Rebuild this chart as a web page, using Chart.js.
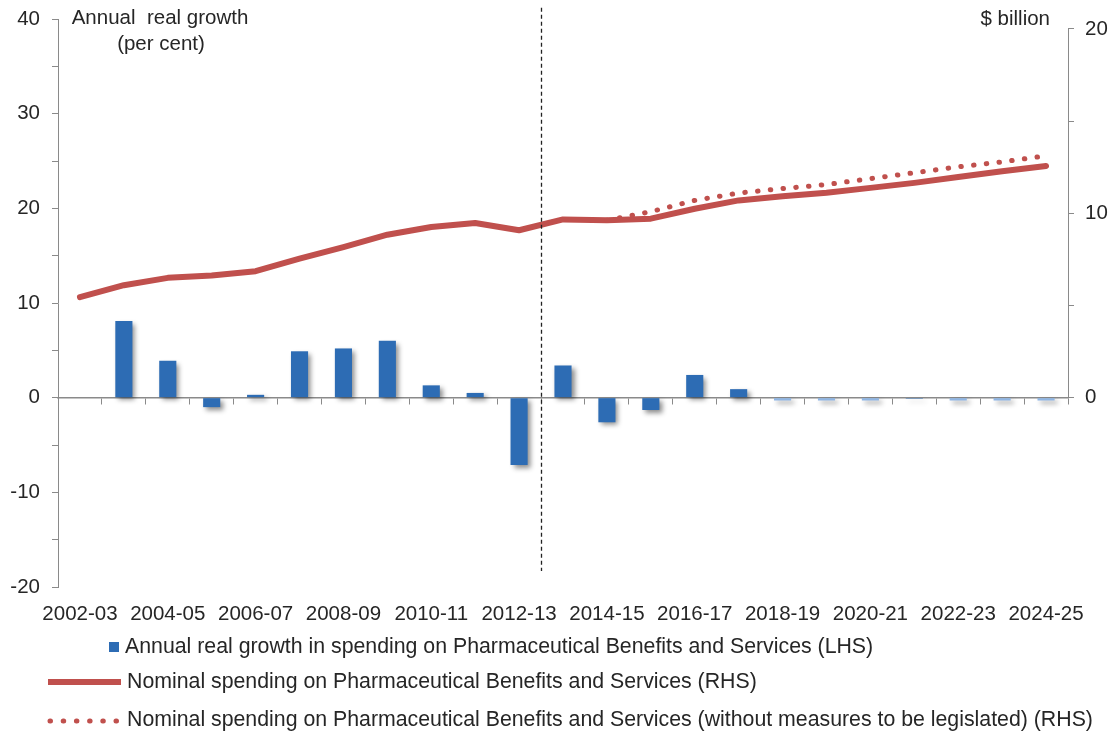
<!DOCTYPE html>
<html>
<head>
<meta charset="utf-8">
<script src="https://cdn.jsdelivr.net/npm/chart.js@4.4.0/dist/chart.umd.min.js"></script>
<style>
  html, body { margin: 0; padding: 0; background: #fff; }
  #wrap { position: relative; width: 1115px; height: 733px; }
</style>
</head>
<body>
<div id="wrap"><canvas id="pbsChart"></canvas></div>
<script>
// financial years on the category axis
const years = [
  "2002-03", "2003-04", "2004-05", "2005-06", "2006-07", "2007-08", "2008-09",
  "2009-10", "2010-11", "2011-12", "2012-13", "2013-14", "2014-15", "2015-16",
  "2016-17", "2017-18", "2018-19", "2019-20", "2020-21", "2021-22", "2022-23",
  "2023-24", "2024-25"
];

// annual real growth, per cent (LHS)
const realGrowth = [
  null, 8.1, 3.9, -1.0, 0.3, 4.9, 5.2, 6.0, 1.3, 0.5, -7.1, 3.4, -2.6, -1.3,
  2.4, 0.9, -0.3, -0.3, -0.3, -0.1, -0.3, -0.3, -0.3
];

// nominal spending, $ billion (RHS)
const nominalSpend = [
  5.45, 6.1, 6.5, 6.63, 6.86, 7.54, 8.17, 8.84, 9.26, 9.47, 9.08, 9.67, 9.62,
  9.71, 10.25, 10.7, 10.92, 11.12, 11.38, 11.65, 11.97, 12.28, 12.57
];

// nominal spending without measures to be legislated, $ billion (RHS)
const nominalNoMeasures = [
  null, null, null, null, null, null, null, null, null, null, null, null, 9.62,
  10.09, 10.7, 11.1, 11.34, 11.56, 11.88, 12.2, 12.52, 12.79, 13.12
];

const leftTickLabels = [-20, -10, 0, 10, 20, 30, 40];
const rightTickLabels = [0, 10, 20];

const seriesNames = [
  "Annual real growth in spending on Pharmaceutical Benefits and Services (LHS)",
  "Nominal spending on Pharmaceutical Benefits and Services (RHS)",
  "Nominal spending on Pharmaceutical Benefits and Services (without measures to be legislated) (RHS)"
];

const FONT = '"Liberation Sans", Arial, sans-serif';
const TEXT = "#262626";
const AXIS = "#8a8a8a";
const BLUE = "#2d6cb4";
const LIGHT_BLUE = "#8fb5e3";
const RED = "#c0504d";
const lightBars = [16, 17, 18, 20, 21, 22];
const dividerAfter = 10; // between 2012-13 and 2013-14

Chart.defaults.font.family = FONT;
Chart.defaults.font.size = 20.5;
Chart.defaults.color = TEXT;

const barShadow = {
  id: "barShadow",
  beforeDatasetDraw(chart, args) {
    if (args.index !== 0) return;
    const ctx = chart.ctx;
    ctx.save();
    ctx.shadowColor = "rgba(0,0,0,0.45)";
    ctx.shadowBlur = 5;
    ctx.shadowOffsetX = 3;
    ctx.shadowOffsetY = 3;
  },
  afterDatasetDraw(chart, args) {
    if (args.index !== 0) return;
    chart.ctx.restore();
  }
};

const decor = {
  id: "decor",
  afterDatasetsDraw(chart) {
    const { ctx, scales } = chart;
    const x = scales.x, y = scales.y;
    const xd = (x.getPixelForValue(dividerAfter) + x.getPixelForValue(dividerAfter + 1)) / 2;
    ctx.save();
    ctx.strokeStyle = "#222";
    ctx.lineWidth = 1.3;
    ctx.setLineDash([4, 3]);
    ctx.beginPath();
    ctx.moveTo(Math.round(xd) + 0.5, y.getPixelForValue(41.2));
    ctx.lineTo(Math.round(xd) + 0.5, y.getPixelForValue(-18.3));
    ctx.stroke();
    ctx.restore();
  },
  afterDraw(chart) {
    const { ctx, scales, chartArea } = chart;
    const y1 = scales.y1;
    ctx.save();

    // right axis line only spans 0 to 20
    ctx.strokeStyle = AXIS;
    ctx.lineWidth = 1;
    ctx.beginPath();
    ctx.moveTo(chartArea.right + 0.5, y1.getPixelForValue(20));
    ctx.lineTo(chartArea.right + 0.5, y1.getPixelForValue(0));
    ctx.stroke();

    // axis titles
    ctx.fillStyle = TEXT;
    ctx.font = "20.5px " + FONT;
    ctx.textBaseline = "middle";
    ctx.textAlign = "center";
    ctx.fillText("Annual  real growth", 160, 18);
    ctx.fillText("(per cent)", 161, 44);
    ctx.textAlign = "right";
    ctx.fillText("$ billion", 1050, 19);

    // legend
    ctx.font = "21.3px " + FONT;
    ctx.textAlign = "left";
    ctx.fillStyle = BLUE;
    ctx.fillRect(109, 642, 10, 10);
    ctx.fillStyle = TEXT;
    ctx.fillText(seriesNames[0], 125, 647);

    ctx.strokeStyle = RED;
    ctx.lineWidth = 6;
    ctx.beginPath();
    ctx.moveTo(48, 682);
    ctx.lineTo(121, 682);
    ctx.stroke();
    ctx.fillText(seriesNames[1], 127, 682);

    ctx.lineWidth = 5;
    ctx.lineCap = "round";
    ctx.setLineDash([0.5, 12.7]);
    ctx.beginPath();
    ctx.moveTo(50, 721);
    ctx.lineTo(117, 721);
    ctx.stroke();
    ctx.setLineDash([]);
    ctx.fillText(seriesNames[2], 127, 720);

    ctx.restore();
  }
};

const noTickPad = s => { s.paddingTop = 0; s.paddingBottom = 0; };

const ctx = document.getElementById("pbsChart").getContext("2d");
const chart = new Chart(ctx, {
  type: "bar",
  data: {
    labels: years,
    datasets: [
      {
        type: "bar",
        label: seriesNames[0],
        data: realGrowth,
        xAxisID: "x",
        yAxisID: "y",
        backgroundColor: c => lightBars.includes(c.dataIndex) ? LIGHT_BLUE : BLUE,
        categoryPercentage: 1,
        barPercentage: 0.39,
        order: 2
      },
      {
        type: "line",
        label: seriesNames[1],
        data: nominalSpend,
        xAxisID: "x",
        yAxisID: "y1",
        borderColor: RED,
        borderWidth: 6,
        borderCapStyle: "round",
        borderJoinStyle: "round",
        pointRadius: 0,
        tension: 0,
        fill: false,
        order: 1
      },
      {
        type: "line",
        label: seriesNames[2],
        data: nominalNoMeasures,
        xAxisID: "x",
        yAxisID: "y1",
        borderColor: RED,
        borderWidth: 5,
        borderDash: [0.5, 12.3],
        borderCapStyle: "round",
        pointRadius: 0,
        tension: 0,
        fill: false,
        order: 0
      }
    ]
  },
  options: {
    responsive: true,
    maintainAspectRatio: false,
    animation: false,
    layout: { padding: { top: 19, left: 0, right: 0, bottom: 0 } },
    plugins: {
      legend: { display: false },
      tooltip: { enabled: false }
    },
    scales: {
      x: {
        type: "category",
        position: { y: 0 },
        offset: true,
        grid: {
          offset: true,
          drawOnChartArea: false,
          drawTicks: true,
          tickLength: 6,
          color: AXIS
        },
        border: { display: true, color: AXIS, width: 1.5 },
        ticks: { display: false }
      },
      x2: {
        type: "category",
        position: "bottom",
        offset: true,
        grid: { display: false, drawTicks: false },
        border: { display: false },
        ticks: {
          autoSkip: false,
          maxRotation: 0,
          padding: 15,
          callback: (v, i) => i % 2 === 0 ? years[i] : ""
        },
        afterFit: s => { s.height = 146; }
      },
      y: {
        position: "left",
        min: -20,
        max: 40,
        grid: {
          drawOnChartArea: false,
          drawTicks: true,
          tickLength: 6,
          color: AXIS
        },
        border: { display: true, color: AXIS },
        ticks: {
          stepSize: 5,
          padding: 12,
          callback: v => leftTickLabels.includes(v) ? String(v) : ""
        },
        afterFit: s => { s.width = 58; noTickPad(s); }
      },
      y1: {
        position: "right",
        min: -10.27,
        max: 20.54,
        grid: {
          drawOnChartArea: false,
          drawTicks: true,
          tickLength: 6,
          color: AXIS
        },
        border: { display: false },
        afterBuildTicks: s => {
          s.ticks = [0, 5, 10, 15, 20].map(v => ({ value: v }));
        },
        ticks: {
          padding: 11,
          callback: v => rightTickLabels.includes(v) ? String(v) : ""
        },
        afterFit: s => { s.width = 47; noTickPad(s); }
      }
    }
  },
  plugins: [barShadow, decor]
});
</script>
</body>
</html>
